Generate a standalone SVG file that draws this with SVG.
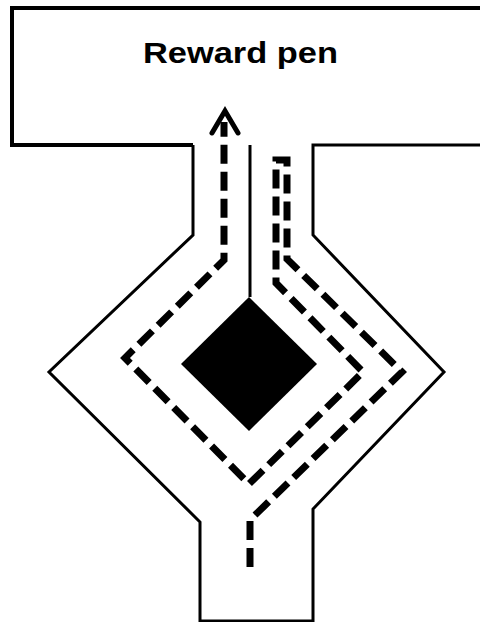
<svg xmlns="http://www.w3.org/2000/svg" width="480" height="622" viewBox="0 0 480 622">
<style>
.wall{fill:none;stroke:#000;stroke-width:3;stroke-linejoin:miter}
.route{fill:none;stroke:#000;stroke-width:7;stroke-dasharray:19 8;stroke-linejoin:miter}
.head{fill:none;stroke:#000;stroke-width:5;stroke-linecap:round;stroke-linejoin:miter}
.label{font-family:"Liberation Sans",Arial,sans-serif;font-weight:bold;font-size:29px;fill:#000}
</style>
<rect width="480" height="622" fill="#fff"/>
<g id="reward-pen">
<polyline class="wall" points="480,8 12,8 12,145 193,145" style="stroke-width:4"/>
<text class="label" x="143" y="63" textLength="195" lengthAdjust="spacingAndGlyphs">Reward pen</text>
</g>
<g id="maze">
<polyline class="wall" points="193,145 193,235 49,372 200,522 200,621 313,621 313,509 444,372 313,235 313,145 480,145"/>
<line class="wall" x1="250" y1="145" x2="250" y2="297"/>
</g>
<g id="obstacle">
<polygon points="249,297 317,364 249,431 181,364" fill="#000"/>
</g>
<g id="connectors">
<polyline class="route" points="250,567 250,520 402,372 287,259 287,160 276,160 276,283 363,372 249,484 125,358 224,260 224,122"/>
<polyline class="head" points="212,133 225,111 238,133"/>
</g>
</svg>
